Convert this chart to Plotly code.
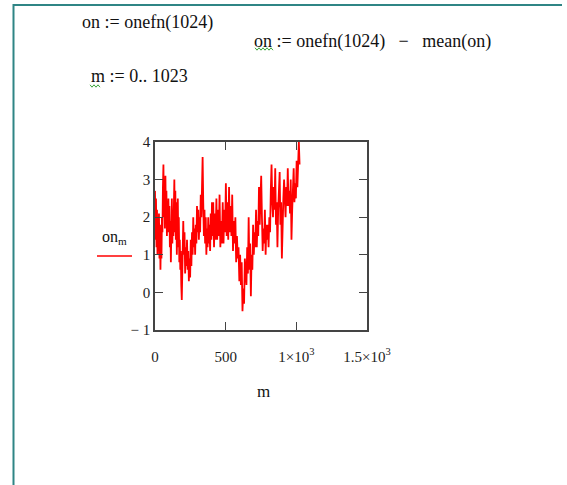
import numpy as np
import plotly.graph_objects as go

# ---- data (on_m vs m, m = 0..1023) ----
seg_bounds = [0, 200, 412, 647, 1023]
seg1 = [2.7, 1.4, 2.5, 1.2, 2.2, 1.0, 1.9, 1.3, 2.1, 0.9, 1.8, 0.6, 1.5, 0.9, 2.0, 1.6, 2.8, 3.4,
        2.0, 2.9, 1.7, 3.1, 1.9, 2.7, 1.5, 2.4, 1.6, 2.5, 1.7, 2.3, 1.2, 1.9, 0.8, 1.5, 2.5, 1.3,
        2.1, 1.5, 2.6, 3.0, 1.6, 2.7, 1.4, 2.4, 1.0, 1.8, 2.5, 1.2, 2.0, 0.8, 1.4, 0.6, 1.1, 0.2,
        -0.2, 0.5, 0.9]
seg2 = [1.9, 1.0, 1.6, 0.5, 1.2, 0.7, 1.4, 0.6, 1.1, 0.3, 0.9, 0.4, 1.4, 0.7, 1.6, 1.0, 2.0, 1.2,
        1.7, 1.0, 1.8, 1.3, 2.3, 1.6, 2.2, 1.4, 2.0, 1.6, 2.6, 2.0, 3.1, 3.6, 2.4, 1.5, 2.2, 1.3,
        2.0, 1.0, 1.7, 1.2, 2.0, 1.3, 1.8, 1.1, 2.1, 1.4, 2.4, 1.5]
seg3 = [2.4, 1.2, 2.1, 1.4, 2.5, 1.4, 2.2, 1.5, 2.6, 1.2, 1.9, 1.3, 2.4, 1.3, 2.2, 1.6, 2.9, 1.5,
        2.4, 1.4, 2.8, 1.6, 2.3, 1.5, 2.6, 1.1, 1.9, 1.3, 2.0, 0.8, 1.5, 0.9, 1.2, 0.3, 1.0, 0.2,
        0.8, -0.5, 0.1, -0.3, 0.9, 0.4]
seg4 = [0.2, 1.2, 0.5, 2.0, 0.6, 1.3, -0.1, 1.0, 0.6, 1.8, 1.0, 1.6, 1.2, 2.2, 1.2, 1.9, 1.5, 2.8,
        1.8, 2.5, 3.1, 2.0, 1.1, 1.7, 1.3, 2.2, 1.0, 1.8, 1.4, 1.8, 1.2, 2.0, 1.6, 2.7, 3.4, 2.4,
        2.0, 2.8, 2.2, 3.3, 1.8, 2.4, 1.2, 2.2, 2.6, 3.2, 1.8, 2.4, 0.9, 2.0, 2.5, 3.0, 2.4, 2.0,
        2.8, 2.3, 3.3, 2.3, 2.7, 2.1, 3.0, 1.4, 2.2, 2.6, 3.3, 2.4, 2.9, 2.5, 3.5, 2.8, 3.2, 4.0,
        3.4]
segments = [seg1, seg2, seg3, seg4]

x_tickvals = [0, 500, 1000, 1500]
x_ticktext = ["0", "500", "1×10<sup>3</sup>", "1.5×10<sup>3</sup>"]
y_tickvals = [-1, 0, 1, 2, 3, 4]
y_ticktext = ["− 1", "0", "1", "2", "3", "4"]

m_vals, on_vals = [], []
for i, seg in enumerate(segments):
    last = i == len(segments) - 1
    m_vals.extend(np.linspace(seg_bounds[i], seg_bounds[i + 1], len(seg), endpoint=last))
    on_vals.extend(seg)

# ---- layout geometry (pixels) ----
W, H = 567, 485
L, R, T, B = 155, 367, 142, 330
pw, ph = R - L, B - T


def px(x):
    return (x - L) / pw


def py(y):
    return (B - y) / ph


SERIF = "Liberation Serif, Times New Roman, DejaVu Serif, serif"
fig = go.Figure()
fig.add_trace(go.Scatter(x=m_vals, y=on_vals, mode="lines",
                         line=dict(color="#ff0000", width=1.8), showlegend=False,
                         hoverinfo="skip"))

axis_common = dict(showgrid=False, zeroline=False, showline=True, linecolor="#444444",
                   linewidth=1.5, ticks="inside", ticklen=8, tickwidth=1.2,
                   tickcolor="#444444", mirror="allticks",
                   tickfont=dict(family=SERIF, size=15, color="#222222"))
fig.update_xaxes(range=[0, 1500], tickvals=x_tickvals, ticktext=x_ticktext,
                 ticklabelstandoff=12, **axis_common)
fig.update_yaxes(range=[-1, 4], tickvals=y_tickvals, ticktext=y_ticktext,
                 ticklabelstandoff=0, **axis_common)

ann = []


def text(x, y, s, size=18, anchor="left"):
    ann.append(dict(x=px(x), y=py(y), xref="paper", yref="paper", text=s, showarrow=False,
                    xanchor=anchor, yanchor="middle",
                    font=dict(family=SERIF, size=size, color="#111111")))


text(80, 22, "on := onefn(1024)")
text(252, 41, "on := onefn(1024)\u00a0\u00a0\u00a0−\u00a0\u00a0\u00a0mean(on)")
text(89, 76, "m := 0.. 1023")
text(114, 237, "on<sub>m</sub>", size=16, anchor="center")
text(263, 391, "m", size=17, anchor="center")

shapes = []
teal = "#2f8585"
# frame borders
shapes.append(dict(type="line", xref="paper", yref="paper", x0=px(13.5), x1=px(13.5),
                   y0=py(4), y1=py(486), line=dict(color=teal, width=2)))
shapes.append(dict(type="line", xref="paper", yref="paper", x0=px(13), x1=px(562),
                   y0=py(5), y1=py(5), line=dict(color=teal, width=2)))
# legend line
shapes.append(dict(type="line", xref="paper", yref="paper", x0=px(97), x1=px(132),
                   y0=py(256), y1=py(256), line=dict(color="#ff0000", width=1.5)))


def squiggle(x0, x1, y):
    pts = []
    n = int((x1 - x0) / 2)
    for k in range(n + 1):
        xx = x0 + k * 2
        yy = y + (1.2 if k % 2 else -1.2)
        pts.append(f"{px(xx):.5f},{py(yy):.5f}")
    return "M" + " L".join(pts)


for (a, b, yy) in [(255, 273, 49), (90, 101, 86)]:
    shapes.append(dict(type="path", xref="paper", yref="paper", path=squiggle(a, b, yy),
                       line=dict(color="#3aa33a", width=1)))

fig.update_layout(width=W, height=H, margin=dict(l=L, r=W - R, t=T, b=H - B),
                  paper_bgcolor="white", plot_bgcolor="white",
                  annotations=ann, shapes=shapes)
fig.write_html("out.html")
